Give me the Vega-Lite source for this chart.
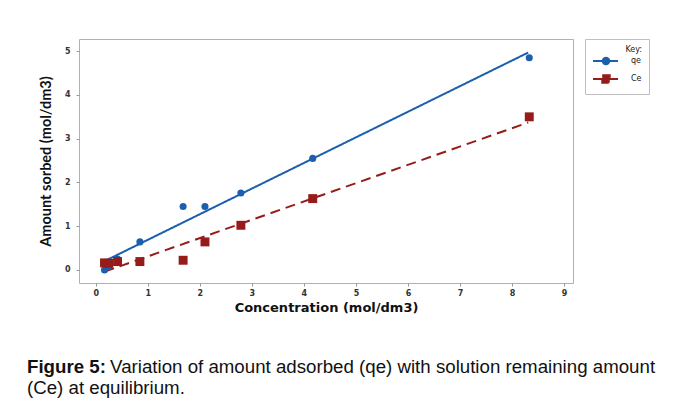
{
  "$schema": "https://vega.github.io/schema/vega-lite/v6.json",
  "width": 494,
  "height": 244,
  "padding": {"left": 27, "top": 38, "right": 5, "bottom": 5},
  "background": "white",
  "datasets": {
    "pts": [
      {"series": "qe", "x": 0.17, "y": 0.0},
      {"series": "qe", "x": 0.25, "y": 0.08},
      {"series": "qe", "x": 0.42, "y": 0.25},
      {"series": "qe", "x": 0.85, "y": 0.64},
      {"series": "qe", "x": 1.68, "y": 1.45},
      {"series": "qe", "x": 2.1, "y": 1.45},
      {"series": "qe", "x": 2.79, "y": 1.76},
      {"series": "qe", "x": 4.17, "y": 2.55},
      {"series": "qe", "x": 8.33, "y": 4.85},
      {"series": "Ce", "x": 0.17, "y": 0.16},
      {"series": "Ce", "x": 0.25, "y": 0.15},
      {"series": "Ce", "x": 0.42, "y": 0.19},
      {"series": "Ce", "x": 0.85, "y": 0.19},
      {"series": "Ce", "x": 1.68, "y": 0.22},
      {"series": "Ce", "x": 2.1, "y": 0.64},
      {"series": "Ce", "x": 2.79, "y": 1.02},
      {"series": "Ce", "x": 4.17, "y": 1.63},
      {"series": "Ce", "x": 8.33, "y": 3.5}
    ],
    "fit": [
      {"series": "qe", "x": 0.17, "y": 0.2},
      {"series": "qe", "x": 8.31, "y": 4.97},
      {"series": "Ce", "x": 0.17, "y": -0.04},
      {"series": "Ce", "x": 8.31, "y": 3.37}
    ]
  },
  "title": {
    "text": "Figure 5:",
    "subtitle": ["\u200b\u00a0\u00a0\u00a0\u00a0\u00a0\u00a0\u00a0\u00a0\u00a0\u00a0\u00a0\u00a0\u00a0\u00a0\u00a0\u00a0Variation of amount adsorbed (qe) with solution remaining amount", "(Ce) at equilibrium."],
    "orient": "bottom",
    "anchor": "start",
    "frame": "group",
    "offset": 44,
    "dx": -52,
    "font": "Liberation Sans",
    "fontSize": 18.7,
    "fontWeight": "bold",
    "color": "#111111",
    "subtitleFont": "Liberation Sans",
    "subtitleFontSize": 18.7,
    "subtitleFontWeight": "normal",
    "subtitleColor": "#111111",
    "subtitleLineHeight": 21,
    "subtitlePadding": -18.7
  },
  "layer": [
    {
      "data": {"name": "fit"},
      "transform": [{"filter": {"field": "series", "equal": "none"}}],
      "mark": {"type": "point", "filled": false, "opacity": 1, "strokeWidth": 2, "size": 64},
      "encoding": {
        "x": {
          "field": "x", "type": "quantitative",
          "scale": {"domain": [-0.32, 9.17], "nice": false, "zero": false},
          "axis": {"values": [0, 1, 2, 3, 4, 5, 6, 7, 8, 9], "title": "Concentration (mol/dm3)", "titleFont": "DejaVu Sans", "titleFontSize": 13, "titlePadding": 4}
        },
        "y": {
          "field": "y", "type": "quantitative",
          "scale": {"domain": [-0.3, 5.28], "nice": false, "zero": false},
          "axis": {"values": [0, 1, 2, 3, 4, 5], "title": "Amount sorbed (mol/dm3)", "titleFont": "Lato", "titleFontSize": 14.5, "titlePadding": 11, "labelPadding": 6}
        },
        "color": {
          "field": "series", "type": "nominal",
          "scale": {"domain": ["qe", "Ce"], "range": ["#1c5fae", "#961c1c"]},
          "legend": {"title": "Key:"}
        },
        "shape": {
          "field": "series", "type": "nominal",
          "scale": {"domain": ["qe", "Ce"], "range": ["M-1,0L5.25,0M3.0625,0A0.8125,0.8125,0,1,1,1.4375,0A0.8125,0.8125,0,1,1,3.0625,0ZM2.5625,0A0.3125,0.3125,0,1,1,1.9375,0A0.3125,0.3125,0,1,1,2.5625,0Z", "M-1,0L5.25,0M1.3125,-0.9375L3.1875,-0.9375L3.1875,0.9375L1.3125,0.9375ZM1.8125,-0.4375L2.6875,-0.4375L2.6875,0.4375L1.8125,0.4375ZM2.1875,-0.0625L2.3125,-0.0625L2.3125,0.0625L2.1875,0.0625Z"]},
          "legend": {"title": "Key:"}
        }
      }
    },
    {
      "data": {"name": "fit"},
      "mark": {"type": "line", "strokeWidth": 2},
      "encoding": {
        "x": {"field": "x", "type": "quantitative"},
        "y": {"field": "y", "type": "quantitative"},
        "color": {"field": "series", "type": "nominal"},
        "strokeDash": {"field": "series", "type": "nominal", "scale": {"domain": ["qe", "Ce"], "range": [[1, 0], [10, 6]]}, "legend": null}
      }
    },
    {
      "data": {"name": "pts"},
      "transform": [{"filter": {"field": "series", "equal": "qe"}}],
      "mark": {"type": "point", "shape": "circle", "filled": true, "opacity": 1, "size": 50},
      "encoding": {
        "x": {"field": "x", "type": "quantitative"},
        "y": {"field": "y", "type": "quantitative"},
        "color": {"field": "series", "type": "nominal"}
      }
    },
    {
      "data": {"name": "pts"},
      "transform": [{"filter": {"field": "series", "equal": "Ce"}}],
      "mark": {"type": "point", "shape": "square", "filled": true, "opacity": 1, "size": 80},
      "encoding": {
        "x": {"field": "x", "type": "quantitative"},
        "y": {"field": "y", "type": "quantitative"},
        "color": {"field": "series", "type": "nominal"}
      }
    }
  ],
  "config": {
    "view": {"stroke": "#b0b0b0", "strokeWidth": 1},
    "axis": {
      "grid": false,
      "domain": false,
      "tickColor": "#999999",
      "tickSize": 3,
      "labelFont": "DejaVu Sans",
      "labelFontSize": 8,
      "labelFontWeight": "bold",
      "labelColor": "#333333",
      "labelPadding": 3,
      "titleFontWeight": "bold",
      "titleColor": "#111111"
    },
    "legend": {
      "orient": "right",
      "offset": 12,
      "padding": 7,
      "strokeColor": "#c0c0c0",
      "fillColor": "white",
      "symbolSize": 64,
      "symbolStrokeWidth": 2,
      "symbolOpacity": 1,
      "titleFont": "DejaVu Sans",
      "titleFontSize": 8,
      "titleFontWeight": "normal",
      "titleColor": "#222222",
      "titleAnchor": "end",
      "titlePadding": 2,
      "labelFont": "DejaVu Sans",
      "labelFontSize": 8,
      "labelColor": "#222222",
      "labelOffset": 29,
      "rowPadding": 2
    }
  }
}
